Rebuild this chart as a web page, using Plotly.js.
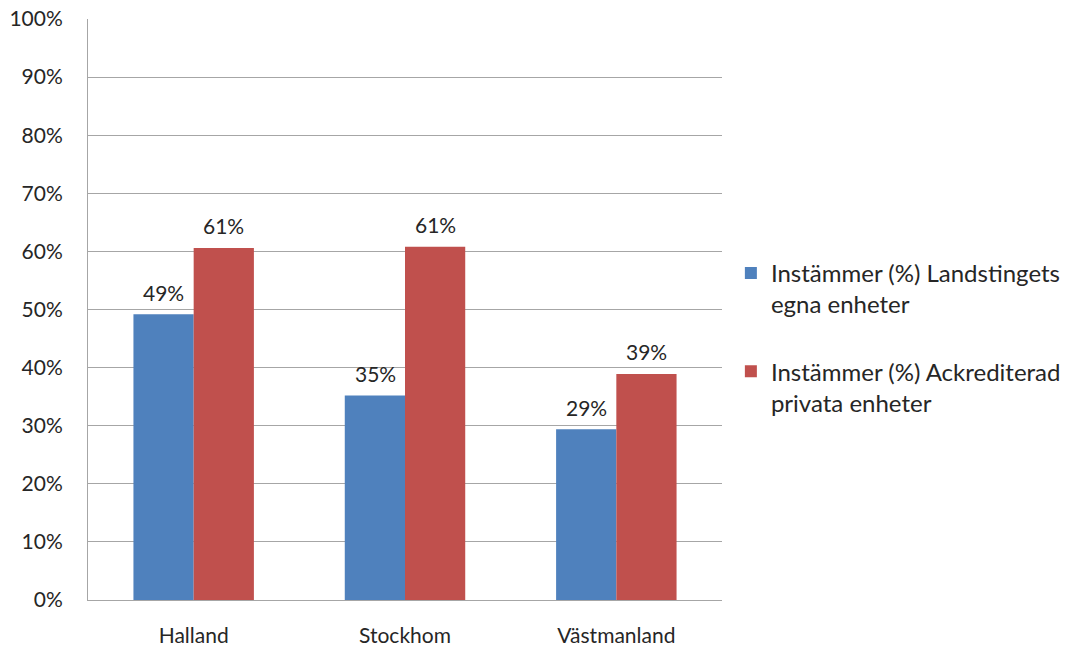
<!DOCTYPE html>
<html><head><meta charset="utf-8">
<script src="https://cdn.plot.ly/plotly-3.0.1.min.js"></script>
<style>body{margin:0;background:#fff}#c{width:1073px;height:647px}</style>
</head><body><div id="c"></div>
<script>
const categories = ["Halland", "Stockhom", "Västmanland"];
const seriesNames = ["Instämmer (%) Landstingets<br>egna enheter", "Instämmer (%) Ackrediterad<br>privata enheter"];
const egnaValues = [0.492, 0.352, 0.294];
const privataValues = [0.606, 0.608, 0.389];
const yTickVals = [0,0.1,0.2,0.3,0.4,0.5,0.6,0.7,0.8,0.9,1.0];

const font = "Lato, 'Open Sans', sans-serif";
const txtColor = "#262626";
const mk = (name, vals, color, grp) => ({
  type: "bar", name: name, x: categories, y: vals, legendgroup: grp,
  marker: {color: color}, hoverinfo: "none"
});
const data = [mk(seriesNames[0], egnaValues, "#4f81bd", "a"), mk(seriesNames[1], privataValues, "#c0504d", "b")];

const annotations = [];
[[egnaValues, -30], [privataValues, 30]].forEach(([vals, dx]) => {
  vals.forEach((v, i) => annotations.push({
    x: categories[i], y: v, xref: "x", yref: "y", xshift: dx, yshift: 22,
    text: Math.round(v * 100) + "%", showarrow: false, yanchor: "middle",
    font: {family: font, size: 21, color: txtColor}
  }));
});

const layout = {
  width: 1073, height: 647,
  margin: {l: 88, r: 351, t: 19, b: 47, autoexpand: false},
  paper_bgcolor: "#fff", plot_bgcolor: "#fff",
  barmode: "group", bargap: 0.43, bargroupgap: 0,
  font: {family: font, size: 21, color: txtColor},
  xaxis: {showgrid: false, showline: true, linecolor: "#a6a6a6", linewidth: 1, automargin: false,
          ticks: "", ticklabelstandoff: 17, tickfont: {size: 21, color: txtColor}},
  yaxis: {range: [0, 1], tickvals: yTickVals, tickformat: ".0%", showgrid: true, automargin: false,
          gridcolor: "#a6a6a6", gridwidth: 1, showline: true, linecolor: "#a6a6a6", linewidth: 1,
          ticks: "", ticklabelstandoff: 20, zeroline: false,
          tickfont: {size: 21, color: txtColor}},
  legend: {x: 1.014, xanchor: "left", y: 0.601, yanchor: "top", valign: "top",
           traceorder: "grouped", font: {size: 24, color: txtColor}, tracegroupgap: 33, itemwidth: 30},
  annotations: annotations,
  showlegend: true
};
Plotly.newPlot("c", data, layout, {staticPlot: true});
</script></body></html>
